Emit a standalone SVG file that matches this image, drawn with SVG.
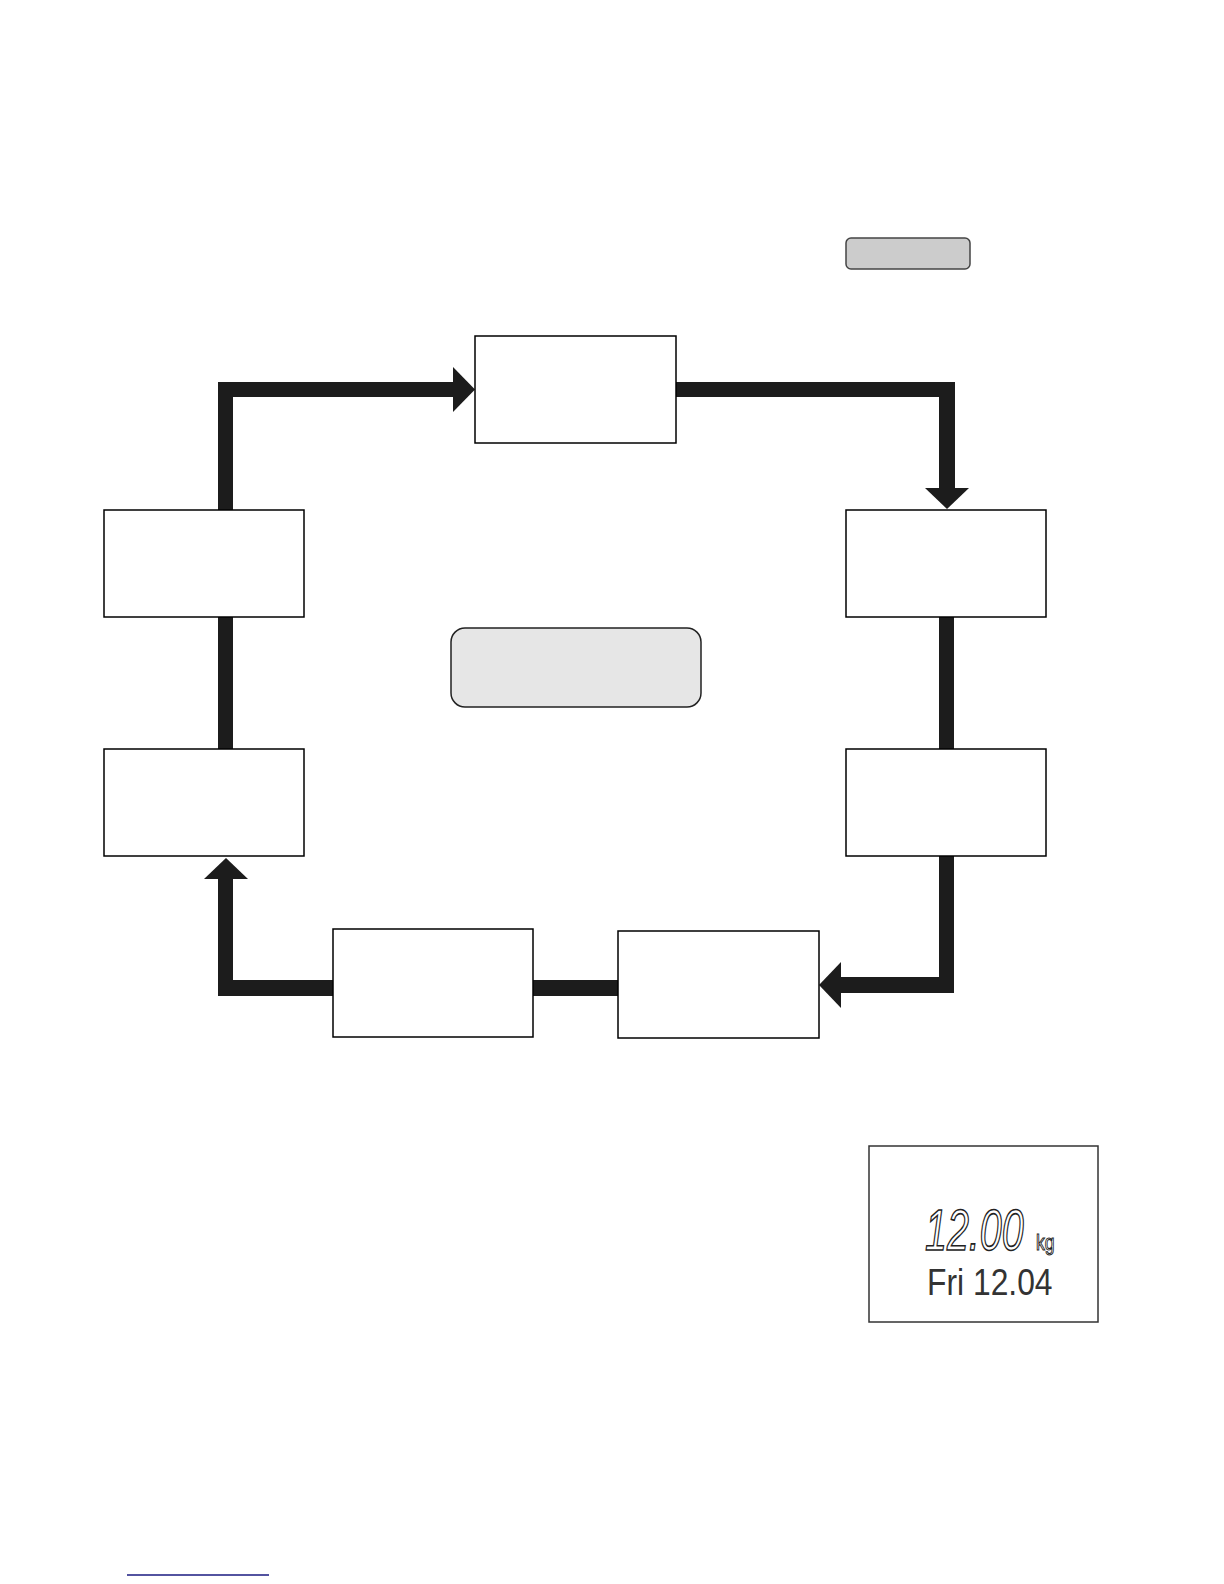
<svg xmlns="http://www.w3.org/2000/svg" width="1224" height="1584" viewBox="0 0 1224 1584">
<style>
.box{fill:#fff;stroke:#000;stroke-width:1.5}
.bar{fill:#1c1c1c}
.lcd{font-family:"Liberation Sans",Arial,sans-serif}
</style>
<rect width="1224" height="1584" fill="#fff"/>
<g id="connectors">
  <rect class="bar" x="218" y="382" width="15" height="128"/>
  <rect class="bar" x="218" y="382" width="237" height="15"/>
  <polygon class="bar" points="453,367 475,389.5 453,412"/>
  <rect class="bar" x="676" y="382" width="279" height="15"/>
  <rect class="bar" x="939" y="382" width="16" height="107"/>
  <polygon class="bar" points="925,488 969,488 947,509"/>
  <rect class="bar" x="939" y="617" width="15" height="132"/>
  <rect class="bar" x="939" y="856" width="15" height="137"/>
  <rect class="bar" x="840" y="977" width="114" height="16"/>
  <polygon class="bar" points="841,962 841,1008 819,985"/>
  <rect class="bar" x="533" y="980" width="85" height="16"/>
  <rect class="bar" x="218" y="980" width="115" height="16"/>
  <rect class="bar" x="218" y="878" width="15" height="118"/>
  <polygon class="bar" points="204,879 248,879 226,858"/>
  <rect class="bar" x="218" y="617" width="15" height="132"/>
</g>
<g id="legend-button"><rect x="846" y="238" width="124" height="31" rx="5" fill="#cccccc" stroke="#444" stroke-width="1.5"/></g>
<g id="node-top"><rect class="box" x="475" y="336" width="201" height="107"/></g>
<g id="node-right1"><rect class="box" x="846" y="510" width="200" height="107"/></g>
<g id="node-left1"><rect class="box" x="104" y="510" width="200" height="107"/></g>
<g id="node-right2"><rect class="box" x="846" y="749" width="200" height="107"/></g>
<g id="node-left2"><rect class="box" x="104" y="749" width="200" height="107"/></g>
<g id="node-bottom-left"><rect class="box" x="333" y="929" width="200" height="108" stroke-width="2"/></g>
<g id="node-bottom-right"><rect class="box" x="618" y="931" width="201" height="107"/></g>
<g id="center"><rect x="451" y="628" width="250" height="79" rx="14" fill="#e6e6e6" stroke="#222" stroke-width="1.5"/></g>
<g id="lcd">
  <rect x="869" y="1146" width="229" height="176" fill="#fff" stroke="#333" stroke-width="1.5"/>
  <text class="lcd" transform="translate(925,1250) scale(0.68,1)" font-size="58" font-style="italic" fill="#fff" stroke="#222" stroke-width="1.6">12.00</text>
  <text class="lcd" transform="translate(1036,1250) scale(0.8,1)" font-size="22" fill="#fff" stroke="#222" stroke-width="1">kg</text>
  <text class="lcd" transform="translate(927,1295) scale(0.86,1)" font-size="37" fill="#333">Fri 12.04</text>
</g>
<line x1="127" y1="1575" x2="269" y2="1575" stroke="#1a1a80" stroke-width="1.5"/>
</svg>
